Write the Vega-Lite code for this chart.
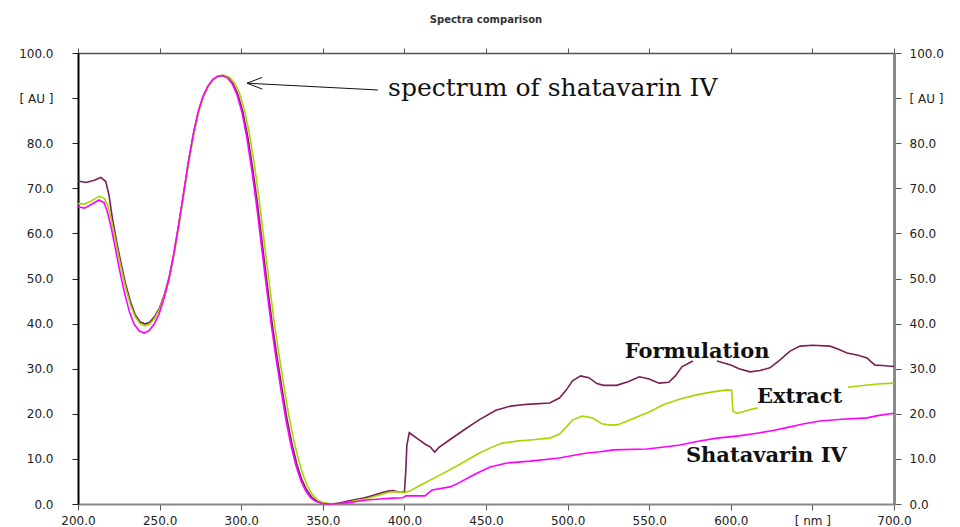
{
  "$schema": "https://vega.github.io/schema/vega-lite/v6.json",
  "width": 816,
  "height": 451,
  "autosize": "none",
  "padding": {"left": 78, "top": 53, "right": 66, "bottom": 23},
  "background": "white",
  "title": {"text": "Spectra comparison", "font": "DejaVu Sans", "fontSize": 10, "fontWeight": "bold", "color": "#333333", "offset": 22, "anchor": "middle"},
  "config": {"view": {"stroke": null}},
  "datasets": {
    "spectra": [
      {"s":"Formulation","g":"F1","x":200,"y":71.6},{"s":"Formulation","g":"F1","x":205,"y":71.3},{"s":"Formulation","g":"F1","x":210,"y":71.8},{"s":"Formulation","g":"F1","x":214,"y":72.4},{"s":"Formulation","g":"F1","x":217,"y":71.5},{"s":"Formulation","g":"F1","x":219,"y":68.5},{"s":"Formulation","g":"F1","x":221,"y":63.5},{"s":"Formulation","g":"F1","x":223.5,"y":58.5},{"s":"Formulation","g":"F1","x":226,"y":54},{"s":"Formulation","g":"F1","x":229,"y":49},{"s":"Formulation","g":"F1","x":232,"y":45},{"s":"Formulation","g":"F1","x":235,"y":42},{"s":"Formulation","g":"F1","x":238,"y":40.4},{"s":"Formulation","g":"F1","x":241,"y":39.9},{"s":"Formulation","g":"F1","x":244,"y":40.3},{"s":"Formulation","g":"F1","x":247,"y":41.6},{"s":"Formulation","g":"F1","x":250,"y":43.5},{"s":"Formulation","g":"F1","x":253,"y":46.5},{"s":"Formulation","g":"F1","x":256,"y":50.5},{"s":"Formulation","g":"F1","x":259,"y":56},{"s":"Formulation","g":"F1","x":262,"y":62.5},{"s":"Formulation","g":"F1","x":265,"y":69.5},{"s":"Formulation","g":"F1","x":268,"y":76.5},{"s":"Formulation","g":"F1","x":271,"y":82.5},{"s":"Formulation","g":"F1","x":274,"y":87.3},{"s":"Formulation","g":"F1","x":277,"y":90.6},{"s":"Formulation","g":"F1","x":280,"y":92.8},{"s":"Formulation","g":"F1","x":283,"y":94.2},{"s":"Formulation","g":"F1","x":286,"y":94.9},{"s":"Formulation","g":"F1","x":289,"y":95.0},{"s":"Formulation","g":"F1","x":292,"y":94.5},{"s":"Formulation","g":"F1","x":295,"y":93.2},{"s":"Formulation","g":"F1","x":298,"y":90.8},{"s":"Formulation","g":"F1","x":301,"y":87},{"s":"Formulation","g":"F1","x":304,"y":81.5},{"s":"Formulation","g":"F1","x":307,"y":74.5},{"s":"Formulation","g":"F1","x":310,"y":66.5},{"s":"Formulation","g":"F1","x":313,"y":57.5},{"s":"Formulation","g":"F1","x":316,"y":48.5},{"s":"Formulation","g":"F1","x":319,"y":40},{"s":"Formulation","g":"F1","x":322,"y":32.5},{"s":"Formulation","g":"F1","x":325,"y":25.5},{"s":"Formulation","g":"F1","x":328,"y":19},{"s":"Formulation","g":"F1","x":331,"y":13.5},{"s":"Formulation","g":"F1","x":334,"y":9},{"s":"Formulation","g":"F1","x":337,"y":5.5},{"s":"Formulation","g":"F1","x":340,"y":3.2},{"s":"Formulation","g":"F1","x":343,"y":1.6},{"s":"Formulation","g":"F1","x":346,"y":0.7},{"s":"Formulation","g":"F1","x":350,"y":0.2},{"s":"Formulation","g":"F1","x":355,"y":0},{"s":"Formulation","g":"F1","x":360,"y":0.2},{"s":"Formulation","g":"F1","x":365,"y":0.6},{"s":"Formulation","g":"F1","x":370,"y":1.0},{"s":"Formulation","g":"F1","x":375,"y":1.3},{"s":"Formulation","g":"F1","x":380,"y":1.8},{"s":"Formulation","g":"F1","x":385,"y":2.4},{"s":"Formulation","g":"F1","x":390,"y":2.9},{"s":"Formulation","g":"F1","x":393,"y":3.0},{"s":"Formulation","g":"F1","x":397,"y":2.6},{"s":"Formulation","g":"F1","x":400,"y":2.6},{"s":"Formulation","g":"F1","x":400.8,"y":7},{"s":"Formulation","g":"F1","x":401.5,"y":13},{"s":"Formulation","g":"F1","x":403,"y":15.8},{"s":"Formulation","g":"F1","x":408,"y":14.5},{"s":"Formulation","g":"F1","x":413,"y":13.2},{"s":"Formulation","g":"F1","x":416,"y":12.6},{"s":"Formulation","g":"F1","x":418.5,"y":11.5},{"s":"Formulation","g":"F1","x":421,"y":12.5},{"s":"Formulation","g":"F1","x":428,"y":14.3},{"s":"Formulation","g":"F1","x":436,"y":16.3},{"s":"Formulation","g":"F1","x":445,"y":18.5},{"s":"Formulation","g":"F1","x":456,"y":20.8},{"s":"Formulation","g":"F1","x":465,"y":21.7},{"s":"Formulation","g":"F1","x":475,"y":22.1},{"s":"Formulation","g":"F1","x":489,"y":22.4},{"s":"Formulation","g":"F1","x":495,"y":23.5},{"s":"Formulation","g":"F1","x":499,"y":25.2},{"s":"Formulation","g":"F1","x":503,"y":27.3},{"s":"Formulation","g":"F1","x":508,"y":28.4},{"s":"Formulation","g":"F1","x":513,"y":28.0},{"s":"Formulation","g":"F1","x":518,"y":26.7},{"s":"Formulation","g":"F1","x":522,"y":26.3},{"s":"Formulation","g":"F1","x":530,"y":26.3},{"s":"Formulation","g":"F1","x":537,"y":27.1},{"s":"Formulation","g":"F1","x":544,"y":28.2},{"s":"Formulation","g":"F1","x":550,"y":27.7},{"s":"Formulation","g":"F1","x":556,"y":26.8},{"s":"Formulation","g":"F1","x":562,"y":27.0},{"s":"Formulation","g":"F1","x":566,"y":28.4},{"s":"Formulation","g":"F1","x":570,"y":30.4},{"s":"Formulation","g":"F1","x":576.8,"y":31.7},
      {"s":"Formulation","g":"F2","x":591.5,"y":31.7},{"s":"Formulation","g":"F2","x":600,"y":30.8},{"s":"Formulation","g":"F2","x":605,"y":30},{"s":"Formulation","g":"F2","x":611.8,"y":29.3},{"s":"Formulation","g":"F2","x":618,"y":29.6},{"s":"Formulation","g":"F2","x":624,"y":30.2},{"s":"Formulation","g":"F2","x":630,"y":31.9},{"s":"Formulation","g":"F2","x":636.3,"y":33.9},{"s":"Formulation","g":"F2","x":642.4,"y":35},{"s":"Formulation","g":"F2","x":650,"y":35.2},{"s":"Formulation","g":"F2","x":660.8,"y":35},{"s":"Formulation","g":"F2","x":666,"y":34.3},{"s":"Formulation","g":"F2","x":671.2,"y":33.5},{"s":"Formulation","g":"F2","x":678,"y":33},{"s":"Formulation","g":"F2","x":683.5,"y":32.4},{"s":"Formulation","g":"F2","x":686,"y":31.5},{"s":"Formulation","g":"F2","x":688.4,"y":30.8},{"s":"Formulation","g":"F2","x":693,"y":30.7},{"s":"Formulation","g":"F2","x":700,"y":30.5},

      {"s":"Extract","g":"E1","x":200,"y":66.6},{"s":"Extract","g":"E1","x":204,"y":66.5},{"s":"Extract","g":"E1","x":208,"y":67.2},{"s":"Extract","g":"E1","x":213,"y":68.2},{"s":"Extract","g":"E1","x":216,"y":67.8},{"s":"Extract","g":"E1","x":218.5,"y":66},{"s":"Extract","g":"E1","x":221,"y":62},{"s":"Extract","g":"E1","x":223.5,"y":57.5},{"s":"Extract","g":"E1","x":226,"y":53},{"s":"Extract","g":"E1","x":229,"y":48.2},{"s":"Extract","g":"E1","x":232,"y":44.3},{"s":"Extract","g":"E1","x":235,"y":41.5},{"s":"Extract","g":"E1","x":238,"y":40},{"s":"Extract","g":"E1","x":241,"y":39.5},{"s":"Extract","g":"E1","x":244,"y":39.9},{"s":"Extract","g":"E1","x":247,"y":41.2},{"s":"Extract","g":"E1","x":250,"y":43.2},{"s":"Extract","g":"E1","x":253,"y":46.2},{"s":"Extract","g":"E1","x":256,"y":50.2},{"s":"Extract","g":"E1","x":259,"y":55.5},{"s":"Extract","g":"E1","x":262,"y":62},{"s":"Extract","g":"E1","x":265,"y":69},{"s":"Extract","g":"E1","x":268,"y":76},{"s":"Extract","g":"E1","x":271,"y":82},{"s":"Extract","g":"E1","x":274,"y":86.9},{"s":"Extract","g":"E1","x":277,"y":90.3},{"s":"Extract","g":"E1","x":280,"y":92.6},{"s":"Extract","g":"E1","x":283,"y":94.1},{"s":"Extract","g":"E1","x":286,"y":94.9},{"s":"Extract","g":"E1","x":289.5,"y":95.1},{"s":"Extract","g":"E1","x":293,"y":94.6},{"s":"Extract","g":"E1","x":296,"y":93.3},{"s":"Extract","g":"E1","x":299,"y":91},{"s":"Extract","g":"E1","x":302,"y":87.4},{"s":"Extract","g":"E1","x":305,"y":82.2},{"s":"Extract","g":"E1","x":308,"y":75.5},{"s":"Extract","g":"E1","x":311,"y":67.5},{"s":"Extract","g":"E1","x":314,"y":58.5},{"s":"Extract","g":"E1","x":317,"y":49.5},{"s":"Extract","g":"E1","x":320,"y":41},{"s":"Extract","g":"E1","x":323,"y":33.5},{"s":"Extract","g":"E1","x":326,"y":26.5},{"s":"Extract","g":"E1","x":329,"y":20},{"s":"Extract","g":"E1","x":332,"y":14.5},{"s":"Extract","g":"E1","x":335,"y":10},{"s":"Extract","g":"E1","x":338,"y":6.3},{"s":"Extract","g":"E1","x":341,"y":3.7},{"s":"Extract","g":"E1","x":344,"y":1.9},{"s":"Extract","g":"E1","x":347,"y":0.8},{"s":"Extract","g":"E1","x":351,"y":0.2},{"s":"Extract","g":"E1","x":356,"y":0},{"s":"Extract","g":"E1","x":361,"y":0.1},{"s":"Extract","g":"E1","x":366,"y":0.4},{"s":"Extract","g":"E1","x":371,"y":0.8},{"s":"Extract","g":"E1","x":376,"y":1.1},{"s":"Extract","g":"E1","x":381,"y":1.6},{"s":"Extract","g":"E1","x":386,"y":2.1},{"s":"Extract","g":"E1","x":391,"y":2.6},{"s":"Extract","g":"E1","x":395,"y":2.7},{"s":"Extract","g":"E1","x":400,"y":2.5},{"s":"Extract","g":"E1","x":403,"y":2.8},{"s":"Extract","g":"E1","x":410,"y":4.2},{"s":"Extract","g":"E1","x":421.8,"y":6.4},{"s":"Extract","g":"E1","x":434,"y":8.8},{"s":"Extract","g":"E1","x":446,"y":11.3},{"s":"Extract","g":"E1","x":453,"y":12.5},{"s":"Extract","g":"E1","x":460,"y":13.5},{"s":"Extract","g":"E1","x":470,"y":14},{"s":"Extract","g":"E1","x":477,"y":14.2},{"s":"Extract","g":"E1","x":489,"y":14.6},{"s":"Extract","g":"E1","x":495,"y":15.5},{"s":"Extract","g":"E1","x":499,"y":17},{"s":"Extract","g":"E1","x":503,"y":18.6},{"s":"Extract","g":"E1","x":509,"y":19.5},{"s":"Extract","g":"E1","x":515,"y":19.1},{"s":"Extract","g":"E1","x":521,"y":17.8},{"s":"Extract","g":"E1","x":526,"y":17.5},{"s":"Extract","g":"E1","x":531,"y":17.6},{"s":"Extract","g":"E1","x":538,"y":18.6},{"s":"Extract","g":"E1","x":550,"y":20.4},{"s":"Extract","g":"E1","x":558.5,"y":22},{"s":"Extract","g":"E1","x":569,"y":23.3},{"s":"Extract","g":"E1","x":579,"y":24.2},{"s":"Extract","g":"E1","x":588,"y":24.8},{"s":"Extract","g":"E1","x":597.7,"y":25.3},{"s":"Extract","g":"E1","x":600.5,"y":25.2},{"s":"Extract","g":"E1","x":601.3,"y":20.6},{"s":"Extract","g":"E1","x":603.8,"y":20.1},{"s":"Extract","g":"E1","x":608,"y":20.5},{"s":"Extract","g":"E1","x":613.6,"y":21.1},{"s":"Extract","g":"E1","x":616.7,"y":21.3},
      {"s":"Extract","g":"E2","x":671.8,"y":25.9},{"s":"Extract","g":"E2","x":683.5,"y":26.4},{"s":"Extract","g":"E2","x":690,"y":26.6},{"s":"Extract","g":"E2","x":700,"y":26.8},

      {"s":"Shatavarin IV","g":"S1","x":200,"y":65.9},{"s":"Shatavarin IV","g":"S1","x":204,"y":65.6},{"s":"Shatavarin IV","g":"S1","x":208,"y":66.4},{"s":"Shatavarin IV","g":"S1","x":213,"y":67.4},{"s":"Shatavarin IV","g":"S1","x":216,"y":66.8},{"s":"Shatavarin IV","g":"S1","x":218,"y":64.8},{"s":"Shatavarin IV","g":"S1","x":220.5,"y":61},{"s":"Shatavarin IV","g":"S1","x":223,"y":56.5},{"s":"Shatavarin IV","g":"S1","x":225.5,"y":51.8},{"s":"Shatavarin IV","g":"S1","x":228.5,"y":46.8},{"s":"Shatavarin IV","g":"S1","x":231.5,"y":42.6},{"s":"Shatavarin IV","g":"S1","x":234.5,"y":39.8},{"s":"Shatavarin IV","g":"S1","x":237.5,"y":38.4},{"s":"Shatavarin IV","g":"S1","x":240.5,"y":37.9},{"s":"Shatavarin IV","g":"S1","x":243.5,"y":38.4},{"s":"Shatavarin IV","g":"S1","x":246.5,"y":39.8},{"s":"Shatavarin IV","g":"S1","x":249.5,"y":42},{"s":"Shatavarin IV","g":"S1","x":252.5,"y":45.3},{"s":"Shatavarin IV","g":"S1","x":255.5,"y":49.5},{"s":"Shatavarin IV","g":"S1","x":258.5,"y":55},{"s":"Shatavarin IV","g":"S1","x":261.5,"y":61.5},{"s":"Shatavarin IV","g":"S1","x":264.5,"y":68.5},{"s":"Shatavarin IV","g":"S1","x":267.5,"y":75.5},{"s":"Shatavarin IV","g":"S1","x":270.5,"y":81.8},{"s":"Shatavarin IV","g":"S1","x":273.5,"y":86.8},{"s":"Shatavarin IV","g":"S1","x":276.5,"y":90.3},{"s":"Shatavarin IV","g":"S1","x":279.5,"y":92.6},{"s":"Shatavarin IV","g":"S1","x":282.5,"y":94.1},{"s":"Shatavarin IV","g":"S1","x":285.5,"y":94.8},{"s":"Shatavarin IV","g":"S1","x":288.5,"y":95},{"s":"Shatavarin IV","g":"S1","x":291.5,"y":94.5},{"s":"Shatavarin IV","g":"S1","x":294.5,"y":93.2},{"s":"Shatavarin IV","g":"S1","x":297.5,"y":90.7},{"s":"Shatavarin IV","g":"S1","x":300.5,"y":86.8},{"s":"Shatavarin IV","g":"S1","x":303.5,"y":81.2},{"s":"Shatavarin IV","g":"S1","x":306.5,"y":74},{"s":"Shatavarin IV","g":"S1","x":309.5,"y":66},{"s":"Shatavarin IV","g":"S1","x":312.5,"y":57},{"s":"Shatavarin IV","g":"S1","x":315.5,"y":48},{"s":"Shatavarin IV","g":"S1","x":318.5,"y":39.5},{"s":"Shatavarin IV","g":"S1","x":321.5,"y":32},{"s":"Shatavarin IV","g":"S1","x":324.5,"y":25},{"s":"Shatavarin IV","g":"S1","x":327.5,"y":18.5},{"s":"Shatavarin IV","g":"S1","x":330.5,"y":13},{"s":"Shatavarin IV","g":"S1","x":333.5,"y":8.6},{"s":"Shatavarin IV","g":"S1","x":336.5,"y":5.2},{"s":"Shatavarin IV","g":"S1","x":339.5,"y":2.9},{"s":"Shatavarin IV","g":"S1","x":342.5,"y":1.4},{"s":"Shatavarin IV","g":"S1","x":345.5,"y":0.6},{"s":"Shatavarin IV","g":"S1","x":349.5,"y":0.1},{"s":"Shatavarin IV","g":"S1","x":355,"y":0},{"s":"Shatavarin IV","g":"S1","x":360,"y":0.1},{"s":"Shatavarin IV","g":"S1","x":366,"y":0.3},{"s":"Shatavarin IV","g":"S1","x":372,"y":0.6},{"s":"Shatavarin IV","g":"S1","x":377,"y":0.9},{"s":"Shatavarin IV","g":"S1","x":385,"y":1.1},{"s":"Shatavarin IV","g":"S1","x":393,"y":1.3},{"s":"Shatavarin IV","g":"S1","x":399,"y":1.4},{"s":"Shatavarin IV","g":"S1","x":401,"y":1.8},{"s":"Shatavarin IV","g":"S1","x":412.6,"y":1.8},{"s":"Shatavarin IV","g":"S1","x":415,"y":2.5},{"s":"Shatavarin IV","g":"S1","x":417,"y":3.1},{"s":"Shatavarin IV","g":"S1","x":428,"y":3.8},{"s":"Shatavarin IV","g":"S1","x":434,"y":4.8},{"s":"Shatavarin IV","g":"S1","x":440,"y":6},{"s":"Shatavarin IV","g":"S1","x":446,"y":7.1},{"s":"Shatavarin IV","g":"S1","x":452.5,"y":8.2},{"s":"Shatavarin IV","g":"S1","x":462.9,"y":9.1},{"s":"Shatavarin IV","g":"S1","x":477,"y":9.5},{"s":"Shatavarin IV","g":"S1","x":495,"y":10.2},{"s":"Shatavarin IV","g":"S1","x":504,"y":10.8},{"s":"Shatavarin IV","g":"S1","x":511.9,"y":11.3},{"s":"Shatavarin IV","g":"S1","x":520,"y":11.6},{"s":"Shatavarin IV","g":"S1","x":528,"y":12},{"s":"Shatavarin IV","g":"S1","x":548.6,"y":12.2},{"s":"Shatavarin IV","g":"S1","x":558,"y":12.6},{"s":"Shatavarin IV","g":"S1","x":568.9,"y":13.1},{"s":"Shatavarin IV","g":"S1","x":580,"y":13.9},{"s":"Shatavarin IV","g":"S1","x":591.5,"y":14.6},{"s":"Shatavarin IV","g":"S1","x":605,"y":15.1},{"s":"Shatavarin IV","g":"S1","x":616,"y":15.7},{"s":"Shatavarin IV","g":"S1","x":626,"y":16.3},{"s":"Shatavarin IV","g":"S1","x":636.3,"y":17.1},{"s":"Shatavarin IV","g":"S1","x":645,"y":17.8},{"s":"Shatavarin IV","g":"S1","x":654.7,"y":18.4},{"s":"Shatavarin IV","g":"S1","x":668,"y":18.8},{"s":"Shatavarin IV","g":"S1","x":683.5,"y":19.1},{"s":"Shatavarin IV","g":"S1","x":690,"y":19.6},{"s":"Shatavarin IV","g":"S1","x":697.5,"y":20},{"s":"Shatavarin IV","g":"S1","x":700,"y":20.1}
    ],
    "arrow": [
      {"x":303.6,"y":93.3,"x2":383.8,"y2":91.8},
      {"x":303.6,"y":93.3,"x2":312.9,"y2":94.6},
      {"x":303.6,"y":93.3,"x2":312.9,"y2":92.0}
    ],
    "note": [{"label":"spectrum of shatavarin IV","x":390,"y":92.2}],
    "labels": [
      {"label":"Formulation","x":535,"y":33.7},
      {"label":"Extract","x":616,"y":23.7},
      {"label":"Shatavarin IV","x":572.5,"y":10.6}
    ]
  },
  "resolve": {"axis": {"x": "independent", "y": "independent"}},
  "layer": [
    {
      "data": {"name": "spectra"},
      "mark": {"type": "line", "strokeWidth": 1.6, "interpolate": "linear"},
      "encoding": {
        "x": {"field": "x", "type": "quantitative", "scale": {"domain": [200, 700], "nice": false, "zero": false},
          "axis": {"orient": "bottom", "title": null, "values": [200,250,300,350,400,450,500,550,600,650,700],
            "labelExpr": "datum.value == 650 ? '[ nm ]' : format(datum.value, '.1f')",
            "grid": false, "domainColor": "#888888", "domainWidth": 2, "tickColor": "#555555", "tickSize": 6,
            "labelFont": "DejaVu Sans", "labelFontSize": 12, "labelColor": "#222222", "labelPadding": 5,
            "labelFlush": false, "labelOverlap": false}},
        "y": {"field": "y", "type": "quantitative", "scale": {"domain": [0, 100], "nice": false},
          "axis": {"orient": "left", "title": null, "values": [0,10,20,30,40,50,60,70,80,90,100],
            "labelExpr": "datum.value == 90 ? '[ AU ]' : format(datum.value, '.1f')",
            "grid": false, "domainColor": "#000000", "domainWidth": 2, "tickColor": "#222222", "tickSize": 6,
            "labelFont": "DejaVu Sans", "labelFontSize": 12, "labelColor": "#222222", "labelPadding": 19,
            "labelFlush": false, "labelOverlap": false}},
        "color": {"field": "s", "type": "nominal", "legend": null,
          "scale": {"domain": ["Formulation", "Extract", "Shatavarin IV"], "range": ["#7a1e58", "#a0d800", "#ff00ff"]}},
        "detail": {"field": "g"},
        "order": {"field": "x", "type": "quantitative"}
      }
    },
    {
      "data": {"name": "arrow"},
      "mark": {"type": "rule", "color": "#111111", "strokeWidth": 1},
      "encoding": {
        "x": {"field": "x", "type": "quantitative",
          "axis": {"orient": "top", "title": null, "values": [200,250,300,350,400,450,500,550,600,650,700], "labels": false,
            "grid": false, "domainColor": "#555555", "domainWidth": 1.5, "tickColor": "#555555", "tickSize": 5}},
        "y": {"field": "y", "type": "quantitative",
          "axis": {"orient": "right", "title": null, "values": [0,10,20,30,40,50,60,70,80,90,100],
            "labelExpr": "datum.value == 90 ? '[ AU ]' : format(datum.value, '.1f')",
            "grid": false, "domainColor": "#8a8a8a", "domainWidth": 3, "tickColor": "#555555", "tickSize": 7,
            "labelFont": "DejaVu Sans", "labelFontSize": 12, "labelColor": "#222222", "labelPadding": 8,
            "labelFlush": false, "labelOverlap": false}},
        "x2": {"field": "x2"},
        "y2": {"field": "y2"}
      }
    },
    {
      "data": {"name": "note"},
      "mark": {"type": "text", "align": "left", "baseline": "middle", "font": "DejaVu Serif", "fontSize": 25, "color": "#111111"},
      "encoding": {
        "x": {"field": "x", "type": "quantitative", "axis": null},
        "y": {"field": "y", "type": "quantitative", "axis": null},
        "text": {"field": "label"}
      }
    },
    {
      "data": {"name": "labels"},
      "mark": {"type": "text", "align": "left", "baseline": "middle", "font": "DejaVu Serif", "fontSize": 21, "fontWeight": "bold", "color": "#111111"},
      "encoding": {
        "x": {"field": "x", "type": "quantitative", "axis": null},
        "y": {"field": "y", "type": "quantitative", "axis": null},
        "text": {"field": "label"}
      }
    }
  ]
}
